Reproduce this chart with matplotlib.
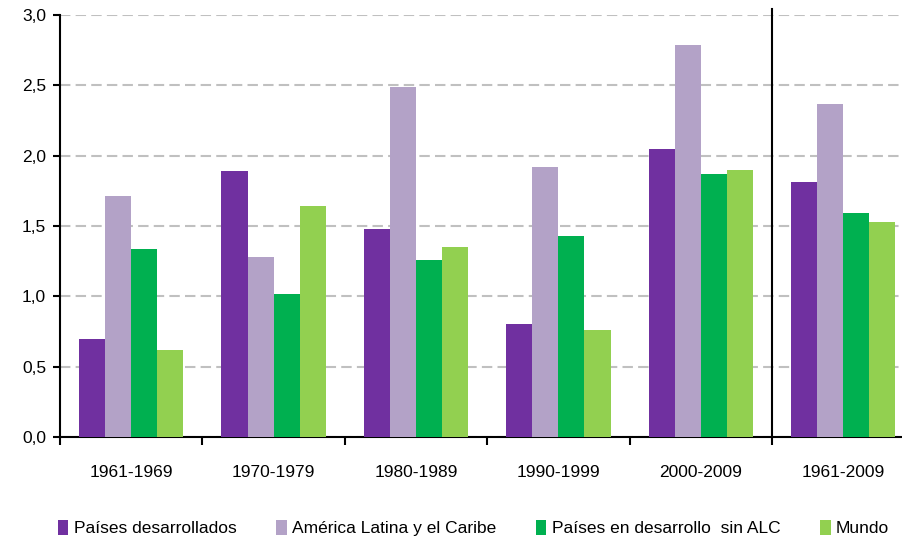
import numpy as np
import matplotlib.pyplot as plt
from matplotlib.ticker import FuncFormatter

plt.rcParams['font.family'] = ['Liberation Sans', 'DejaVu Sans']

periods = ['1961-1969', '1970-1979', '1980-1989', '1990-1999', '2000-2009', '1961-2009']
series = ['Países desarrollados', 'América Latina y el Caribe',
          'Países en desarrollo  sin ALC', 'Mundo']
desarrollados = [0.70, 1.89, 1.48, 0.80, 2.05, 1.81]
alc = [1.71, 1.28, 2.49, 1.92, 2.79, 2.37]
en_desarrollo = [1.34, 1.02, 1.26, 1.43, 1.87, 1.59]
mundo = [0.62, 1.64, 1.35, 0.76, 1.90, 1.53]
colors = ['#7030A0', '#B3A2C7', '#00B050', '#92D050']

fig = plt.figure(figsize=(9.02, 5.40), dpi=100)
ax = fig.add_axes([0.0665, 0.1907, 0.9335, 0.7815])

x = np.arange(len(periods))
w = 0.183
for i, vals in enumerate([desarrollados, alc, en_desarrollo, mundo]):
    ax.bar(x + (i - 1.5) * w, vals, w, color=colors[i], label=series[i], zorder=3)

ax.set_ylim(0, 3.0)
ax.set_xlim(-0.5, 5.413)
ax.set_yticks(np.arange(0, 3.01, 0.5))
ax.yaxis.set_major_formatter(FuncFormatter(lambda v, p: f'{v:.1f}'.replace('.', ',')))
ax.yaxis.grid(True, linestyle=(0, (5, 2.5)), color='#C0C0C0', linewidth=1.5, zorder=0)

ax.set_xticks(np.arange(-0.5, 5.0, 1.0))
ax.set_xticklabels([])
ax.set_xticks(x, minor=True)
ax.set_xticklabels(periods, minor=True, fontsize=12.5)
ax.tick_params(axis='x', which='minor', length=0, pad=20)
ax.tick_params(axis='x', which='major', length=6, width=1.5, direction='out')
ax.tick_params(axis='y', length=5, width=1.5, direction='out', labelsize=12.5, pad=5)

for s in ['top', 'right']:
    ax.spines[s].set_visible(False)
for s in ['left', 'bottom']:
    ax.spines[s].set_linewidth(1.5)

ax.axvline(4.5, ymin=0, ymax=1.015, color='black', linewidth=1.5, clip_on=False, zorder=4)

fig.legend(loc='lower center', bbox_to_anchor=(0.525, -0.022), ncol=4, frameon=False,
           fontsize=12.5, handlelength=0.6, handleheight=1.0, handletextpad=0.3,
           columnspacing=2.3)

fig.savefig('out.png', dpi=100)
